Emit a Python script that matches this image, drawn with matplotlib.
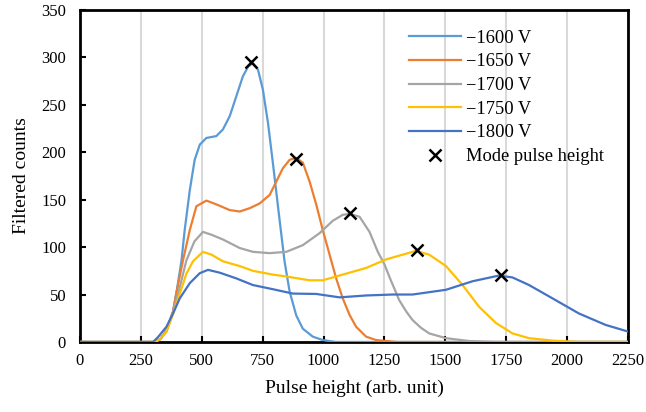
import matplotlib
matplotlib.use("Agg")
import matplotlib.pyplot as plt

# ---- data ----
x_1600 = [0, 307, 330, 355, 382, 400, 417, 430, 451, 471, 492, 519, 560, 587, 615, 642, 669, 690, 710,
          731, 751, 772, 792, 813, 840, 861, 888, 915, 956, 997, 1050, 2250]
y_1600 = [0, 0, 3, 12, 32, 58, 86, 118, 160, 192, 208, 215, 217, 224, 238, 259, 280, 290, 294,
          287, 266, 231, 189, 143, 85, 53, 28, 14, 5.6, 2, 0, 0]

x_1650 = [0, 307, 330, 355, 382, 400, 423, 451, 478, 519, 560, 615, 656, 697, 738, 779, 806, 833, 861,
          888, 915, 943, 970, 997, 1025, 1052, 1079, 1107, 1134, 1175, 1216, 1300, 2250]
y_1650 = [0, 0, 3, 12, 32, 57, 86, 118, 143, 149, 145, 139, 137.5, 141, 146, 155, 169, 183, 192,
          194, 189, 169, 145, 118, 92, 67, 46, 28.5, 16, 5.6, 2, 0, 0]

x_1700 = [0, 307, 330, 355, 382, 410, 437, 470, 505, 540, 587, 656, 710, 779, 847, 915, 984, 1038,
          1079, 1107, 1148, 1189, 1223, 1250, 1270, 1311, 1340, 1366, 1400, 1434, 1503, 1598, 1700, 2250]
y_1700 = [0, 0, 3, 11, 31, 58, 86, 106, 116, 113, 108, 99, 95, 93.6, 95, 102, 114.7, 127.7,
          134, 135, 132, 116, 95, 82, 69, 44, 32, 23, 15, 9, 4, 1, 0, 0]

x_1750 = [0, 307, 330, 355, 382, 410, 437, 464, 505, 540, 587, 656, 710, 792, 847, 943, 997, 1079,
          1175, 1257, 1311, 1380, 1434, 1503, 1571, 1639, 1708, 1776, 1844, 1940, 2050, 2250]
y_1750 = [0, 0, 3, 11, 29, 51, 72, 85, 95, 92, 85, 80, 75, 71, 69, 65, 65, 71,
          78, 87, 91, 96, 92, 80, 60, 37, 20, 9, 4, 1.4, 0, 0]

x_1800 = [0, 300, 320, 355, 382, 410, 451, 492, 526, 574, 642, 710, 792, 874, 970, 1066, 1175, 1284,
          1366, 1503, 1612, 1721, 1776, 1844, 1940, 2049, 2158, 2250]
y_1800 = [0, 0, 5, 16, 30, 46, 62, 72.5, 76, 73, 67, 60, 55.6, 51, 50.6, 47, 49, 50,
          50, 55, 64, 70, 68, 60, 46, 30, 18, 11]

mode_x = [703, 888, 1107, 1385, 1730]
mode_y = [295, 193, 136, 97, 71]

labels = ["\u22121600 V", "\u22121650 V", "\u22121700 V", "\u22121750 V", "\u22121800 V"]
colors = ["#5B9BD5", "#ED7D31", "#A5A5A5", "#FFC000", "#4472C4"]
xticks = [0, 250, 500, 750, 1000, 1250, 1500, 1750, 2000, 2250]
yticks = [0, 50, 100, 150, 200, 250, 300, 350]

plt.rcParams['font.family'] = ['Liberation Serif', 'DejaVu Serif']

fig = plt.figure(figsize=(6.46, 4.12), dpi=100)
ax = fig.add_axes([0.1238, 0.170, 0.8482, 0.806])

series = [(x_1600, y_1600), (x_1650, y_1650), (x_1700, y_1700), (x_1750, y_1750), (x_1800, y_1800)]
for (xs, ys), lab, c in zip(series, labels, colors):
    ax.plot(xs, ys, color=c, lw=1.6, label=lab, zorder=3, solid_joinstyle='round')

ax.plot(mode_x, mode_y, linestyle='none', marker='x', color='black',
        markersize=8, markeredgewidth=1.8, label='Mode pulse height', zorder=4)

ax.set_xlim(0, 2250)
ax.set_ylim(0, 350)
ax.set_xticks(xticks)
ax.set_yticks(yticks)
ax.grid(axis='x', color='#D9D9D9', lw=1.5, zorder=0)
ax.set_axisbelow(True)
for s in ax.spines.values():
    s.set_linewidth(2.0)
    s.set_color('black')
ax.tick_params(direction='in', length=4, width=1.5, labelsize=12, pad=8)
ax.tick_params(axis='y', pad=10)

ax.set_xlabel('Pulse height (arb. unit)', fontsize=14, labelpad=8)
ax.set_ylabel('Filtered counts', fontsize=14, labelpad=8)

leg = ax.legend(loc='upper right', bbox_to_anchor=(0.987, 0.99), frameon=False,
                fontsize=13.3, handlelength=2.8, handletextpad=0.3,
                labelspacing=0.36, borderpad=0.4)

fig.savefig('out.png', dpi=100)
